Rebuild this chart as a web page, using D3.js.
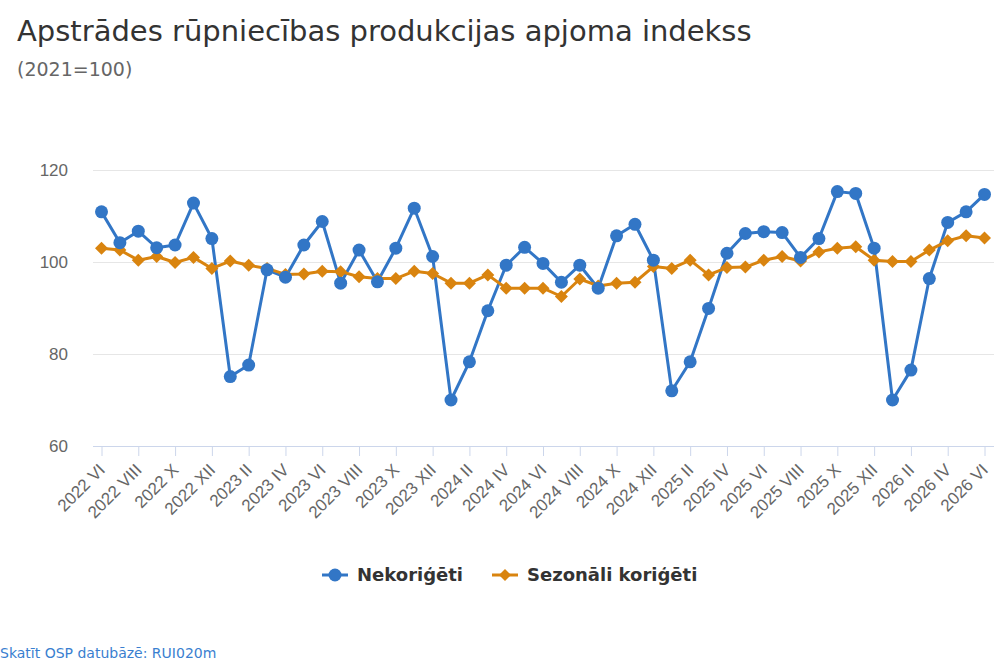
<!DOCTYPE html>
<html>
<head>
<meta charset="utf-8">
<script src="https://cdn.jsdelivr.net/npm/d3@7"></script>
<style>
  body { margin: 0; background: #fff; }
  svg { font-family: "DejaVu Sans", sans-serif; }
</style>
</head>
<body>
<div class="chart"></div>
<script>
// months shown on the x axis (2022 VI .. 2026 VI)
var months = [
  "2022 VI","2022 VII","2022 VIII","2022 IX","2022 X","2022 XI","2022 XII",
  "2023 I","2023 II","2023 III","2023 IV","2023 V","2023 VI","2023 VII","2023 VIII","2023 IX","2023 X","2023 XI","2023 XII",
  "2024 I","2024 II","2024 III","2024 IV","2024 V","2024 VI","2024 VII","2024 VIII","2024 IX","2024 X","2024 XI","2024 XII",
  "2025 I","2025 II","2025 III","2025 IV","2025 V","2025 VI","2025 VII","2025 VIII","2025 IX","2025 X","2025 XI","2025 XII",
  "2026 I","2026 II","2026 III","2026 IV","2026 V","2026 VI"
];

var nekorigeti = [
  110.9, 104.2, 106.7, 103.1, 103.7, 112.8, 105.1,
  75.1, 77.6, 98.3, 96.7, 103.7, 108.8, 95.4, 102.6, 95.7, 103.0, 111.7, 101.2,
  70.0, 78.3, 89.4, 99.3, 103.2, 99.7, 95.6, 99.3, 94.3, 105.7, 108.2, 100.4,
  72.0, 78.3, 89.9, 101.9, 106.2, 106.6, 106.4, 101.0, 105.1, 115.3, 114.9, 103.0,
  70.0, 76.5, 96.4, 108.6, 110.9, 114.7
];

var sezonaliKorigeti = [
  103.0, 102.6, 100.4, 101.2, 99.9, 101.0, 98.6,
  100.2, 99.3, 98.6, 97.3, 97.4, 98.0, 97.9, 96.8, 96.4, 96.4, 98.0, 97.5,
  95.4, 95.4, 97.2, 94.3, 94.3, 94.3, 92.5, 96.3, 94.8, 95.4, 95.6, 99.0,
  98.6, 100.4, 97.2, 98.8, 98.9, 100.4, 101.2, 100.2, 102.2, 103.0, 103.3, 100.4,
  100.1, 100.1, 102.6, 104.6, 105.7, 105.2
];

var yTicks = [60, 80, 100, 120];
var seriesNames = ["Nekoriģēti", "Sezonāli koriģēti"];
var colors = ["#3276c6", "#d9840f"];

var width = 1000, height = 667;
var plotLeft = 93, plotRight = 994, plotBottom = 446;

var svg = d3.select(".chart").append("svg")
    .attr("width", width)
    .attr("height", height);

var x = d3.scalePoint()
    .domain(months)
    .range([101.5, 984.5]);

var y = d3.scaleLinear()
    .domain([60, 120])
    .range([plotBottom, 170]);

// title and subtitle
svg.append("text")
    .attr("x", 17)
    .attr("y", 41)
    .attr("fill", "#333")
    .style("font-size", "29px")
    .text("Apstrādes rūpniecības produkcijas apjoma indekss");

svg.append("text")
    .attr("x", 17)
    .attr("y", 76)
    .attr("fill", "#666")
    .style("font-size", "19px")
    .text("(2021=100)");

// grid lines + y labels
var yAxis = d3.axisLeft(y)
    .tickValues(yTicks)
    .tickSize(-(plotRight - plotLeft))
    .tickPadding(25);

var gy = svg.append("g")
    .attr("transform", "translate(" + plotLeft + ",0)")
    .call(yAxis);
gy.select(".domain").remove();
gy.selectAll(".tick line").attr("stroke", "#e6e6e6");
gy.selectAll(".tick text")
    .attr("fill", "#666")
    .style("font-size", "17px")
    .attr("dy", "0.35em");

// x axis, every second month labelled
var xAxis = d3.axisBottom(x)
    .tickValues(months.filter(function(d, i) { return i % 2 == 0; }))
    .tickSize(10)
    .tickSizeOuter(0);

var gx = svg.append("g")
    .attr("transform", "translate(0," + plotBottom + ")")
    .call(xAxis);
gx.select(".domain")
    .attr("d", "M" + plotLeft + ",0.5H" + plotRight)
    .attr("stroke", "#ccd6eb");
gx.selectAll(".tick line").attr("stroke", "#ccd6eb");
gx.selectAll(".tick text")
    .attr("fill", "#666")
    .style("font-size", "17px")
    .attr("text-anchor", "end")
    .attr("transform", "translate(4,25) rotate(-45)")
    .attr("y", 0)
    .attr("dy", 0);

// lines
var allSeries = [nekorigeti, sezonaliKorigeti];
var line = d3.line()
    .x(function(d, i) { return x(months[i]); })
    .y(function(d) { return y(d); });

allSeries.forEach(function(s, k) {
  svg.append("path")
      .datum(s)
      .attr("fill", "none")
      .attr("stroke", colors[k])
      .attr("stroke-width", 3)
      .attr("stroke-linejoin", "round")
      .attr("d", line);
});

// diamonds for the seasonally adjusted series
svg.append("g").selectAll("path")
    .data(sezonaliKorigeti)
    .enter()
    .append("path")
    .attr("transform", function(d, i) { return "translate(" + x(months[i]) + "," + y(d) + ")"; })
    .attr("d", "M0,-6.5L6.5,0L0,6.5L-6.5,0Z")
    .attr("fill", colors[1]);

// circles for the unadjusted series
svg.append("g").selectAll("circle")
    .data(nekorigeti)
    .enter()
    .append("circle")
    .attr("cx", function(d, i) { return x(months[i]); })
    .attr("cy", function(d) { return y(d); })
    .attr("r", 6.5)
    .attr("fill", colors[0]);

// legend
var legend = svg.append("g").attr("transform", "translate(0,575)");
var legendX = [322, 492];
seriesNames.forEach(function(name, k) {
  var g = legend.append("g").attr("transform", "translate(" + legendX[k] + ",0)");
  g.append("line")
      .attr("x1", 0).attr("x2", 26)
      .attr("stroke", colors[k])
      .attr("stroke-width", 3);
  if (k == 0) {
    g.append("circle").attr("cx", 13).attr("r", 6.5).attr("fill", colors[k]);
  } else {
    g.append("path").attr("d", "M13,-6L19,0L13,6L7,0Z").attr("fill", colors[k]);
  }
  g.append("text")
      .attr("x", 35)
      .attr("dy", "0.35em")
      .attr("fill", "#333")
      .style("font-size", "18px")
      .style("font-weight", "bold")
      .text(name);
});

// credits
svg.append("text")
    .attr("x", 0)
    .attr("y", 658)
    .attr("fill", "#3a7fd0")
    .style("font-size", "14px")
    .text("Skatīt OSP datubāzē: RUI020m");
</script>
</body>
</html>
